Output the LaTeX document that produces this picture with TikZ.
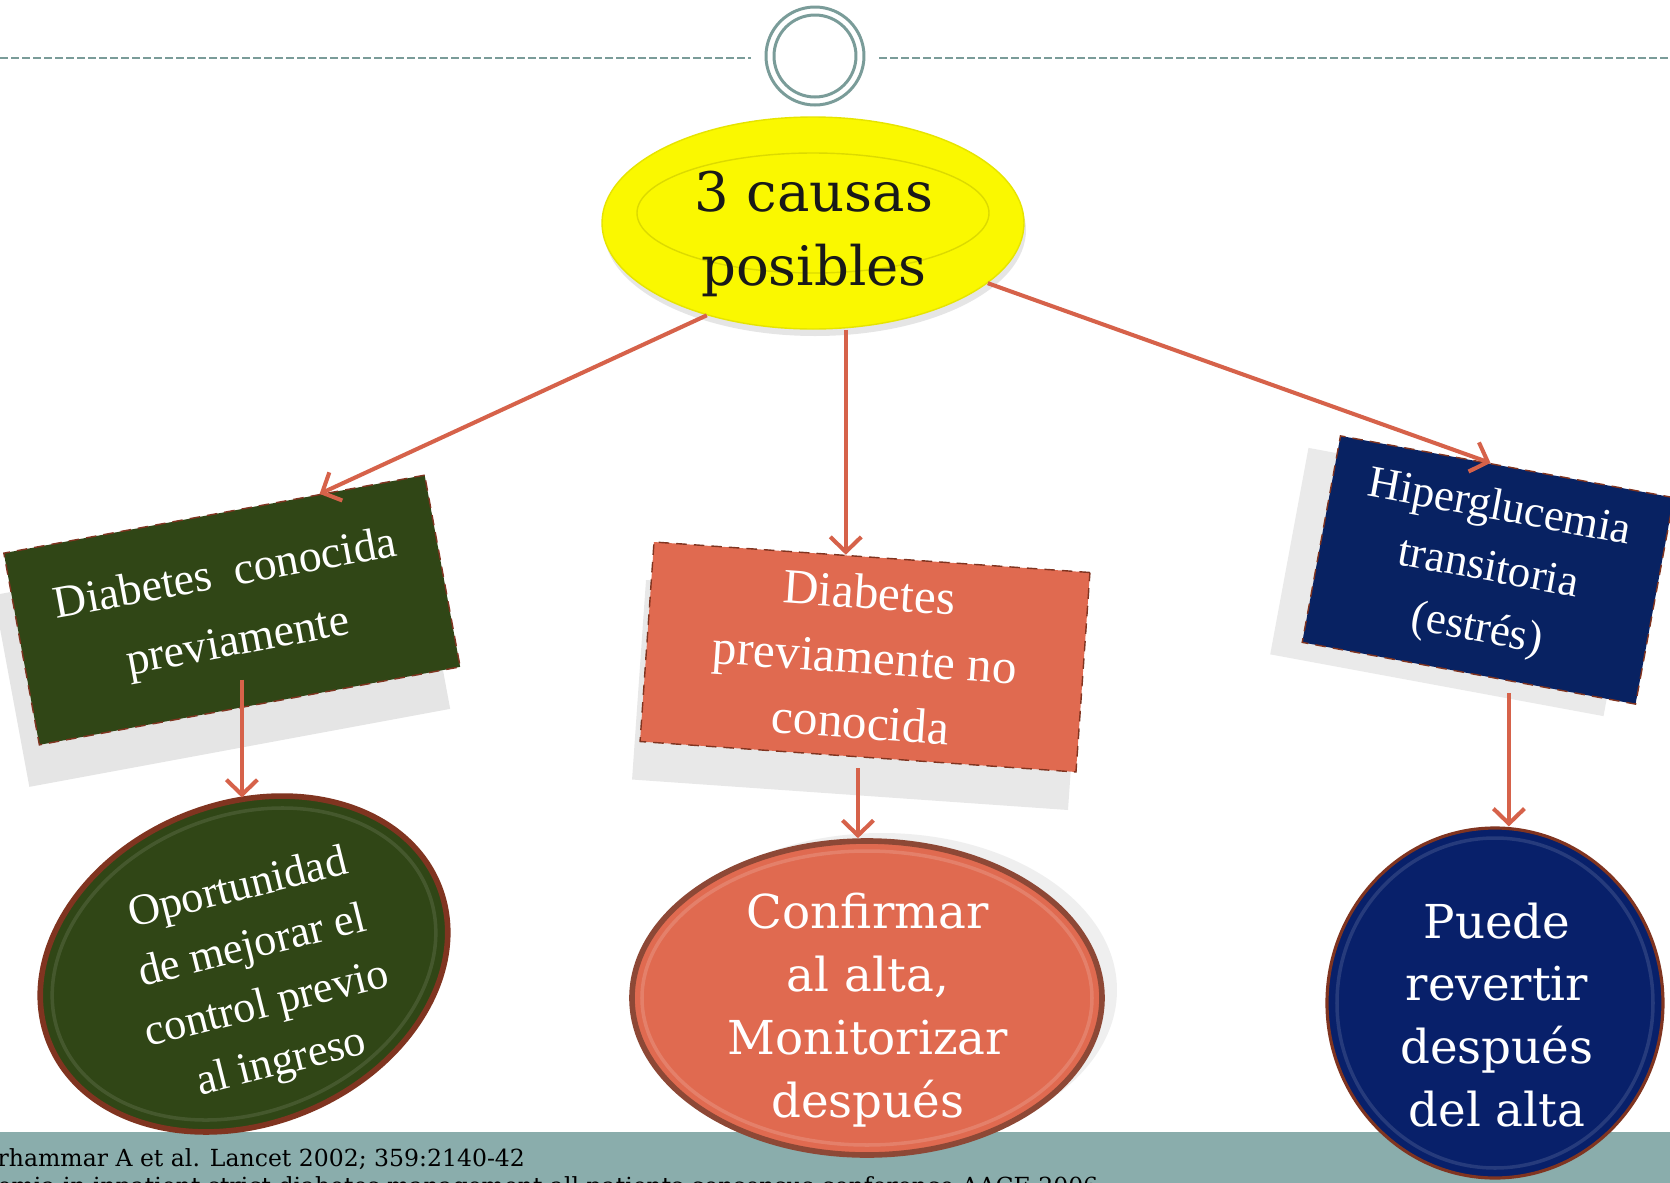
\documentclass[tikz,border=0pt]{standalone}
\usepackage{fontspec}
\setmainfont{DejaVu Serif}
\newfontfamily\boxfont{Liberation Serif}
\usetikzlibrary{arrows.meta, positioning, calc, shapes.geometric, shadows}

\definecolor{causeyellow}{RGB}{250,248,0}
\definecolor{knowngreen}{RGB}{48,70,22}
\definecolor{newcoral}{RGB}{224,106,80}
\definecolor{stressnavy}{RGB}{8,34,98}
\definecolor{arrowred}{RGB}{214,98,74}
\definecolor{slateteal}{RGB}{122,156,153}
\definecolor{footband}{RGB}{138,173,172}
\definecolor{rimbrown}{RGB}{128,52,32}

\begin{document}
\begin{tikzpicture}[
    every node/.style={align=center},
    causebox/.style={draw=rimbrown, densely dashed, line width=0.4pt, inner sep=0pt, text=white},
    outcome/.style={ellipse, draw=rimbrown, line width=1.6pt, inner sep=0pt},
    boxtext/.style={font=\boxfont\fontsize{13}{19.5}\selectfont},
    roundtext/.style={text=white, font=\fontsize{13.3}{17.9}\selectfont},
    arrow/.style={-{Straight Barb[length=1.5mm,width=3.1mm]}, arrowred, line width=1.15pt}
]
\useasboundingbox (0,0) rectangle (16.70,-11.83);
\fill[white] (0,0) rectangle (16.70,-11.83);

% header rule and ring
\draw[slateteal, line width=0.45pt, dash pattern=on 0.08cm off 0.03cm] (0,-0.58) -- (7.51,-0.58);
\draw[slateteal, line width=0.45pt, dash pattern=on 0.08cm off 0.03cm] (8.79,-0.58) -- (16.70,-0.58);
\node[circle, draw=slateteal, line width=0.85pt, minimum size=0.98cm, inner sep=0pt] (ring) at (8.15,-0.56) {};
\draw[slateteal, line width=0.85pt] (ring.center) circle (0.41);

% footer band
\fill[footband] (0,-11.32) rectangle (16.70,-11.83);
\node[anchor=base west, inner sep=0pt, font=\fontsize{6.7}{8}\selectfont] (ref1) at (-0.03,-11.66) {rhammar A et al. Lancet 2002; 359:2140-42};
\node[anchor=base west, inner sep=0pt, font=\fontsize{6.7}{8}\selectfont] (ref2) at (-0.03,-11.94) {emia in inpatient strict diabetes management all patients consensus conference AACE 2006};

% central cause
\node[ellipse, fill=causeyellow, draw=causeyellow!92!black, line width=0.4pt, minimum width=4.22cm, minimum height=2.12cm,
      drop shadow={shadow xshift=0.02cm, shadow yshift=-0.07cm, opacity=0.2}] (causas) at (8.13,-2.23) {};
\draw[causeyellow!88!black, line width=0.4pt] ([yshift=0.1cm]causas.center) ellipse [x radius=1.76, y radius=0.60];
\node[font=\fontsize{15.5}{21}\selectfont, text=black!90] (causaslbl) at (8.14,-2.34) {3 causas\\posibles};

% three causes
\node[causebox, boxtext, fill=knowngreen, minimum width=4.28cm, minimum height=1.95cm, rotate=10.5,
      drop shadow={shadow xshift=-0.1cm, shadow yshift=-0.42cm, opacity=0.2}] (diabk) at (2.32,-6.10) {Diabetes\ \ conocida\\previamente};
\node[causebox, boxtext, fill=newcoral, minimum width=4.37cm, minimum height=2.0cm, rotate=-4,
      font=\boxfont\fontsize{14}{18.5}\selectfont,
      drop shadow={shadow xshift=-0.08cm, shadow yshift=-0.38cm, opacity=0.18}] (known) at (8.65,-6.57) {Diabetes\\previamente no\\conocida};
\node[causebox, boxtext, fill=stressnavy, minimum width=3.39cm, minimum height=2.1cm, rotate=-10.5,
      font=\boxfont\fontsize{12.8}{17.5}\selectfont,
      drop shadow={shadow xshift=-0.32cm, shadow yshift=-0.12cm, opacity=0.16}] (hiper) at (14.88,-5.70) {Hiperglucemia\\transitoria\\(estrés)};

% outcomes
\node[outcome, fill=knowngreen, minimum width=4.2cm, minimum height=3.2cm, rotate=22] (oport) at (2.44,-9.64) {};
\draw[white, opacity=0.1, line width=1pt] (oport.center) ellipse [x radius=1.98, y radius=1.48, rotate=22];
\node[text=white, rotate=14, font=\boxfont\fontsize{12.6}{17}\selectfont] (oportlbl) at (2.60,-9.77) {Oportunidad\\de mejorar el\\control previo\\al ingreso};

\node[outcome, fill=newcoral, draw=rimbrown!90, minimum width=4.70cm, minimum height=3.14cm,
      drop shadow={shadow xshift=0.15cm, shadow yshift=0.08cm, opacity=0.12}] (confirm) at (8.67,-9.98) {};
\draw[white, opacity=0.15, line width=1pt] (confirm.center) ellipse [x radius=2.25, y radius=1.47];
\node[roundtext] (confirmlbl) at (8.68,-10.10) {Confirmar\\al alta,\\Monitorizar\\después};

\node[outcome, fill=stressnavy!95!blue, line width=0.9pt, minimum width=3.36cm, minimum height=3.50cm] (revert) at (14.95,-10.03) {};
\draw[white, opacity=0.12, line width=1pt] (revert.center) ellipse [x radius=1.58, y radius=1.65];
\node[roundtext] (revertlbl) at (14.97,-10.15) {Puede\\revertir\\después\\del alta};

% connectors
\coordinate (knowntop) at ($(known.north west)!0.44!(known.north east)$);
\draw[arrow] (causas.221) -- ($(diabk.north west)!0.75!(diabk.north east)$);
\draw[arrow] (causas.south -| knowntop) -- (knowntop);
\draw[arrow] (causas.-19) -- ($(hiper.north west)!0.45!(hiper.north east)$);
\draw[arrow] ([xshift=-0.08cm,yshift=0.27cm]diabk.south) -- ([xshift=-0.08cm,yshift=-0.91cm]diabk.south);
\draw[arrow] ([yshift=-0.11cm]known.south) -- (known.south |- confirm.north);
\coordinate (hiperfoot) at ($(hiper.south west)!0.62!(hiper.south east)$);
\draw[arrow] ([yshift=-0.12cm]hiperfoot) -- (hiperfoot |- revert.north);
\end{tikzpicture}
\end{document}
